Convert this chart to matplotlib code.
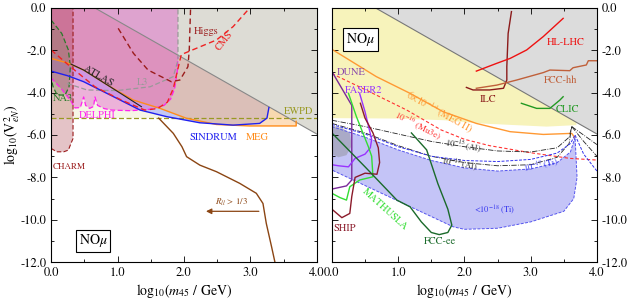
"""Two-panel NOmu heavy neutral lepton bounds: current (left) and future (right)."""
import matplotlib

matplotlib.use("Agg")
import matplotlib.pyplot as plt
from matplotlib.ticker import MultipleLocator, FormatStrFormatter

plt.rcParams["font.family"] = ["STIXGeneral", "DejaVu Serif"]
plt.rcParams["mathtext.fontset"] = "stix"

# ---------------- shared ----------------
diag_x = [0.66, 4.0]
diag_y = [0.0, -5.95]
ewpd_y = -5.2

# ---------------- left panel (current bounds) ----------------
meg_x = [0.0, 0.25, 0.49, 0.89, 1.24, 1.64, 2.04, 2.49, 2.99, 3.69]
meg_y = [-2.38, -2.6, -2.93, -3.72, -4.35, -4.74, -5.21, -5.50, -5.57, -5.57]

sindrum_x = [0.0, 0.25, 0.49, 0.89, 1.34, 1.74, 2.24, 2.74, 3.14, 3.25, 3.28]
sindrum_y = [-2.98, -3.2, -3.48, -4.11, -4.82, -5.13, -5.42, -5.53, -5.45, -5.2, -4.70]

cms_x = [0.0, 0.29, 0.66, 1.06, 1.41, 1.6, 1.75, 1.84, 1.9, 1.96, 2.19, 2.49, 2.74, 2.99]
cms_y = [-1.98, -2.77, -3.72, -4.35, -4.82, -4.75, -4.45, -3.8, -3.0, -2.2, -1.9, -1.51, -0.88, 0.0]

higgs_x = [1.01, 1.24, 1.46, 1.81, 1.94, 2.06, 2.08, 2.10]
higgs_y = [-0.96, -2.14, -2.93, -3.48, -3.4, -2.77, -1.98, 0.0]

l3_x = [0.24, 0.54, 0.99, 1.49, 1.84, 1.91, 1.91]
l3_y = [-3.56, -3.87, -3.9, -3.72, -3.24, -2.46, 0.0]

delphi_x = [0.0, 0.15, 0.3, 0.36, 0.44, 0.49, 0.52, 0.58, 0.64, 0.66, 0.7, 0.8,
            0.91, 1.2, 1.5, 1.7, 1.8, 1.86, 1.9, 1.91, 1.91, 0.0]
delphi_y = [-3.3, -3.8, -4.4, -4.72, -4.7, -4.2, -4.6, -4.74, -4.65, -4.2, -4.6, -4.75,
            -4.82, -4.85, -4.78, -4.6, -4.3, -3.8, -3.0, -2.3, 0.0, 0.0]

charm_x = [0.0, 0.085, 0.19, 0.26, 0.30, 0.33, 0.33, 0.0]
charm_y = [-6.63, -6.79, -6.79, -6.71, -6.39, -6.16, 0.0, 0.0]

na3_x = [0.0, 0.16, 0.26, 0.29, 0.27, 0.21, 0.09, 0.03, 0.0]
na3_y = [-0.57, -1.2, -1.98, -2.77, -3.72, -4.11, -4.11, -3.72, -3.3]

atlas_x = [0.3, 0.49, 0.89, 1.36]
atlas_y = [-2.65, -2.93, -3.72, -4.66]

rll_x = [1.62, 1.84, 1.97, 2.04, 2.24, 2.49, 2.84, 3.09, 3.19, 3.24, 3.32, 3.37]
rll_y = [-5.2, -5.92, -6.55, -7.02, -7.42, -7.73, -8.28, -8.75, -9.23, -10.17, -11.28, -12.0]

# ---------------- right panel (future sensitivities) ----------------
yellow_low_x = [3.69, 3.24, 2.23, 1.7, 1.0, 0.0]
yellow_low_y = [-5.53, -5.6, -5.45, -5.3, -5.22, -5.2]

megII_x = [0.0, 0.67, 1.18, 1.68, 2.18, 2.69, 3.19, 3.62, 3.66]
megII_y = [-1.95, -3.24, -4.03, -4.9, -5.45, -5.84, -5.97, -5.92, -6.1]

mu3e_x = [0.0, 0.5, 1.13, 1.65, 2.0, 2.38, 2.99, 3.59, 4.0]
mu3e_y = [-3.1, -3.85, -4.82, -5.76, -6.2, -6.5, -6.83, -7.1, -7.18]

al15_x = [0.0, 0.5, 1.0, 1.5, 2.0, 2.5, 3.0, 3.4, 3.58, 3.62]
al15_y = [-5.3, -5.6, -5.95, -6.3, -6.55, -6.75, -6.8, -6.6, -6.1, -5.6]

al17_x = [0.0, 0.5, 1.0, 1.5, 2.0, 2.5, 3.0, 3.4, 3.58, 3.62]
al17_y = [-5.45, -5.9, -6.5, -7.0, -7.3, -7.45, -7.4, -7.05, -6.4, -5.6]

ti17_x = [0.0, 0.5, 1.0, 1.5, 2.0, 2.5, 3.0, 3.4, 3.6, 3.67]
ti17_y = [-5.5, -5.95, -6.55, -7.0, -7.2, -7.25, -7.15, -6.85, -6.4, -6.0]

ti18_x = [0.0, 0.5, 1.0, 1.5, 2.0, 2.5, 3.0, 3.4, 3.6, 3.67, 3.7, 3.65, 3.5,
          3.0, 2.5, 2.0, 1.83, 0.0]
ti18_y = [-5.6, -6.1, -6.7, -7.2, -7.55, -7.7, -7.6, -7.3, -6.8, -6.1, -8.0, -9.0,
          -9.6, -10.1, -10.4, -10.45, -10.33, -7.65]

grey_patch_x = [0.0, 0.15, 0.27, 0.3, 0.22, 0.1, 0.0]
grey_patch_y = [-5.55, -5.65, -5.9, -6.5, -6.95, -7.05, -6.9]

cusp_al_x = [3.62, 3.8, 4.0]
cusp_al_y = [-5.6, -6.0, -6.45]
cusp_al2_y = [-5.6, -6.3, -7.0]
cusp_ti_x = [3.67, 3.8, 4.0]
cusp_ti_y = [-6.0, -6.9, -7.7]

dune_x = [0.0, 0.3, 0.3, 0.22, 0.0]
dune_y = [-3.0, -4.6, -8.12, -8.4, -8.55]

faser_x = [0.42, 0.5, 0.6, 0.58, 0.5, 0.35, 0.25, 0.1, 0.0]
faser_y = [-4.05, -4.9, -6.2, -6.6, -6.9, -7.1, -7.5, -7.45, -7.4]

mathusla_x = [0.25, 0.37, 0.55, 0.6, 0.62, 0.42, 0.27, 0.22, 0.12, 0.0]
mathusla_y = [-4.03, -5.13, -6.55, -7.0, -7.97, -8.12, -8.44, -9.07, -8.95, -8.75]

ship_x = [0.43, 0.5, 0.62, 0.7, 0.72, 0.68, 0.5, 0.35, 0.3, 0.27, 0.15, 0.0]
ship_y = [-4.5, -5.2, -5.9, -6.6, -7.3, -7.85, -7.8, -8.0, -8.9, -9.7, -9.9, -9.5]

fccee_x = [0.0, 0.5, 0.98, 1.18, 1.35, 1.5, 1.62, 1.75, 1.81, 1.75, 1.6, 1.43, 1.2]
fccee_y = [-5.9, -7.5, -9.07, -9.39, -10.1, -10.6, -10.7, -10.6, -10.25, -9.5, -8.3, -6.7, -5.9]

ilc_x = [2.03, 2.13, 2.38, 2.59, 2.64, 2.64, 2.66, 2.71]
ilc_y = [-3.75, -3.87, -3.87, -3.79, -3.4, -2.77, -1.2, -0.17]

hllhc_x = [2.18, 2.49, 2.69, 2.94, 3.19, 3.49]
hllhc_y = [-2.98, -2.61, -2.38, -1.98, -1.35, -0.49]

fcchh_x = [2.18, 2.49, 2.79, 3.19, 3.29, 3.59, 3.64, 3.84, 3.87, 4.0]
fcchh_y = [-3.79, -3.64, -3.4, -3.05, -2.93, -2.96, -2.82, -2.69, -2.49, -2.49]

clic_x = [2.86, 3.09, 3.29, 3.44, 3.49]
clic_y = [-4.5, -4.74, -4.74, -4.35, -4.19]

DARKRED = "#9b1c1c"
BROWN = "#8b4513"
BLUE = "#2020ee"
ORANGE = "#ff8c1a"


def style_axes(ax, right_labels=False):
    ax.set_xlim(0, 4)
    ax.set_ylim(-12, 0)
    ax.xaxis.set_major_locator(MultipleLocator(1.0))
    ax.xaxis.set_minor_locator(MultipleLocator(0.5))
    ax.yaxis.set_major_locator(MultipleLocator(2.0))
    ax.yaxis.set_minor_locator(MultipleLocator(1.0))
    ax.xaxis.set_major_formatter(FormatStrFormatter("%.1f"))
    ax.yaxis.set_major_formatter(FormatStrFormatter("%.1f"))
    ax.tick_params(which="both", direction="in", top=True, right=True, labelsize=9)
    ax.tick_params(which="major", length=4, width=0.6)
    ax.tick_params(which="minor", length=2, width=0.6)
    if right_labels:
        ax.tick_params(labelleft=False, labelright=True)
    for s in ax.spines.values():
        s.set_linewidth(0.8)
    ax.set_xlabel(r"log$_{10}$($m_{45}$ / GeV)", fontsize=10, labelpad=2)


def nomu_box(ax, x, y):
    ax.text(x, y, r"NO$\mu$", fontsize=10, ha="center", va="center",
            bbox=dict(boxstyle="square,pad=0.2", fc="white", ec="black", lw=0.8),
            zorder=10)


fig = plt.figure(figsize=(6.31, 3.02), dpi=100)
ax1 = fig.add_axes([0.081, 0.132, 0.421, 0.8415])
ax2 = fig.add_axes([0.526, 0.132, 0.42, 0.8415])

# ---------- left ----------
ax = ax1
ax.fill_between([0, 4], ewpd_y, 0, color="#f6f6e6", lw=0)
ax.fill(sindrum_x + [3.28, 0.0], sindrum_y + [0.0, 0.0], color="#c2c8f6", lw=0)
ax.fill(meg_x + [3.69, 0.0], meg_y + [0.0, 0.0], color="#fbb66e", alpha=0.45, lw=0)
ax.fill(diag_x + [4.0], diag_y + [0.0], color="#dddcd5", lw=0)
ax.plot(diag_x, diag_y, color="#888888", lw=0.8)
ax.fill(delphi_x, delphi_y, color="#e055c8", alpha=0.42, lw=0)
ax.plot(delphi_x[:-2], delphi_y[:-2], color="#ff22ee", lw=0.9, ls=(0, (4, 2)))
ax.fill(charm_x, charm_y, color="#a02838", alpha=0.28, lw=0)
ax.plot(charm_x[:-1], charm_y[:-1], color=DARKRED, lw=0.8, ls=(0, (4, 2)))
ax.fill(na3_x, na3_y, color="#6a8a50", alpha=0.25, lw=0)
ax.plot(na3_x, na3_y, color="#2a7a2a", lw=0.9, ls=(0, (4, 2)))
ax.axhline(ewpd_y, color="#999922", lw=0.9, ls=(0, (4, 2)))
ax.plot(l3_x, l3_y, color="#999999", lw=0.9, ls=(0, (4, 2)))
ax.plot(meg_x + [3.69], meg_y + [-5.35], color=ORANGE, lw=1.0)
ax.plot(sindrum_x, sindrum_y, color=BLUE, lw=1.0)
ax.plot(atlas_x, atlas_y, color="#222222", lw=0.8)
ax.plot(cms_x, cms_y, color="#ee2222", lw=1.0, ls=(0, (4, 2.5)))
ax.plot(higgs_x, higgs_y, color=DARKRED, lw=1.0, ls=(0, (4, 2.5)))
ax.plot(rll_x, rll_y, color=BROWN, lw=1.0)
ax.annotate("", xy=(2.29, -9.6), xytext=(3.17, -9.6),
            arrowprops=dict(arrowstyle="-|>", color=BROWN, lw=0.9, mutation_scale=8))
ax.text(2.72, -9.2, r"$R_{ll}$ > 1/3", color=BROWN, fontsize=6.5, ha="center", va="center")

ax.text(2.33, -1.1, "Higgs", color=DARKRED, fontsize=7.5, ha="center", va="center")
ax.text(2.6, -1.55, "CMS", color="#ee2222", fontsize=7.5, ha="center", va="center", rotation=52)
ax.text(1.38, -3.5, "L3", color="#999999", fontsize=7.5, ha="center", va="center")
ax.text(0.72, -3.2, "ATLAS", color="#222222", fontsize=7.5, ha="center", va="center", rotation=-30)
ax.text(0.02, -4.25, "NA3", color="#2a7a2a", fontsize=7.5, ha="left", va="center")
ax.text(0.7, -5.05, "DELPHI", color="#ff22ee", fontsize=7.5, ha="center", va="center")
ax.text(3.72, -4.85, "EWPD", color="#999922", fontsize=7.5, ha="center", va="center")
ax.text(2.45, -6.1, "SINDRUM", color=BLUE, fontsize=7.5, ha="center", va="center")
ax.text(3.1, -6.1, "MEG", color=ORANGE, fontsize=7.5, ha="center", va="center")
ax.text(0.03, -7.5, "CHARM", color=DARKRED, fontsize=6.5, ha="left", va="center")
nomu_box(ax, 0.63, -11.0)
style_axes(ax)
ax.set_ylabel(r"log$_{10}$(V$^2_{eN}$)", fontsize=10)
ax.yaxis.set_label_coords(-0.108, 0.5)

# ---------- right ----------
ax = ax2
ax.fill([0.0] + diag_x[:1] + [3.69] + yellow_low_x,
        [0.0] + diag_y[:1] + [-5.37] + yellow_low_y, color="#f7f3bb", lw=0)
ax.fill(diag_x + [4.0], diag_y + [0.0], color="#dcdcdc", lw=0)
ax.plot(diag_x, diag_y, color="#777777", lw=0.8)
ax.fill(ti18_x, ti18_y, color="#c4c4f7", lw=0)
ax.plot(ti18_x, ti18_y, color="#5555ee", lw=0.7, ls=(0, (3, 1.5)))
ax.fill(grey_patch_x, grey_patch_y, color="#9a9aa8", alpha=0.6, lw=0)
ax.plot(megII_x, megII_y, color="#ff9933", lw=1.0)
ax.plot(mu3e_x, mu3e_y, color="#ff3333", lw=0.8, ls=(0, (3, 2)))
ax.plot(al15_x, al15_y, color="#222222", lw=0.6, ls="-.")
ax.plot(al17_x, al17_y, color="#222222", lw=0.6, ls="-.")
ax.plot(ti17_x, ti17_y, color="#3333ee", lw=0.7, ls=(0, (3, 1.5)))
ax.plot(cusp_al_x, cusp_al_y, color="#222222", lw=0.6, ls="-.")
ax.plot(cusp_al_x, cusp_al2_y, color="#222222", lw=0.6, ls="-.")
ax.plot(cusp_ti_x, cusp_ti_y, color="#3333ee", lw=0.7, ls=(0, (3, 1.5)))

ax.plot(dune_x, dune_y, color="#7a2a9a", lw=1.0)
ax.plot(faser_x, faser_y, color="#9933ff", lw=1.0)
ax.plot(mathusla_x, mathusla_y, color="#33dd33", lw=1.0)
ax.plot(ship_x, ship_y, color="#8b1a2a", lw=1.0)
ax.plot(fccee_x, fccee_y, color="#1a6a2a", lw=1.0)
ax.plot(ilc_x, ilc_y, color="#8b1a1a", lw=1.0)
ax.plot(hllhc_x, hllhc_y, color="#ee1111", lw=1.0)
ax.plot(fcchh_x, fcchh_y, color="#c0603a", lw=1.0)
ax.plot(clic_x, clic_y, color="#229922", lw=1.0)

ax.text(1.62, -4.9, r"6$\times$10$^{-14}$ (MEG II)", color="#ff9933", fontsize=7,
        ha="center", va="center", rotation=-29)
ax.text(1.3, -5.55, r"10$^{-16}$ (Mu3e)", color="#ff3333", fontsize=6.5,
        ha="center", va="center", rotation=-27)
ax.text(1.98, -6.5, r"10$^{-15}$ (Al)", color="#222222", fontsize=6,
        ha="center", va="center", rotation=-10)
ax.text(1.92, -7.4, r"10$^{-17}$ (Al)", color="#222222", fontsize=6,
        ha="center", va="center", rotation=-10)
ax.text(3.15, -7.45, r"10$^{-17}$ (Ti)", color="#3333ee", fontsize=6,
        ha="center", va="center", rotation=12)
ax.text(2.45, -9.55, r"<10$^{-18}$ (Ti)", color="#3333ee", fontsize=6,
        ha="center", va="center")

ax.text(0.07, -3.05, "DUNE", color="#8844aa", fontsize=7.5, ha="left", va="center")
ax.text(0.2, -3.9, "FASER2", color="#9933ff", fontsize=7.5, ha="left", va="center")
ax.text(0.8, -9.5, "MATHUSLA", color="#33dd33", fontsize=7.5, ha="center", va="center", rotation=-42)
ax.text(0.2, -10.4, "SHIP", color="#8b1a2a", fontsize=7.5, ha="center", va="center")
ax.text(1.63, -11.0, "FCC-ee", color="#1a6a2a", fontsize=7.5, ha="center", va="center")
ax.text(2.35, -4.3, "ILC", color="#8b1a1a", fontsize=7.5, ha="center", va="center")
ax.text(3.53, -1.6, "HL-LHC", color="#ee1111", fontsize=7.5, ha="center", va="center")
ax.text(3.46, -3.4, "FCC-hh", color="#c0603a", fontsize=7.5, ha="center", va="center")
ax.text(3.56, -4.8, "CLIC", color="#229922", fontsize=7.5, ha="center", va="center")
nomu_box(ax, 0.43, -1.5)
style_axes(ax, right_labels=True)

fig.savefig("out.png", dpi=100)
